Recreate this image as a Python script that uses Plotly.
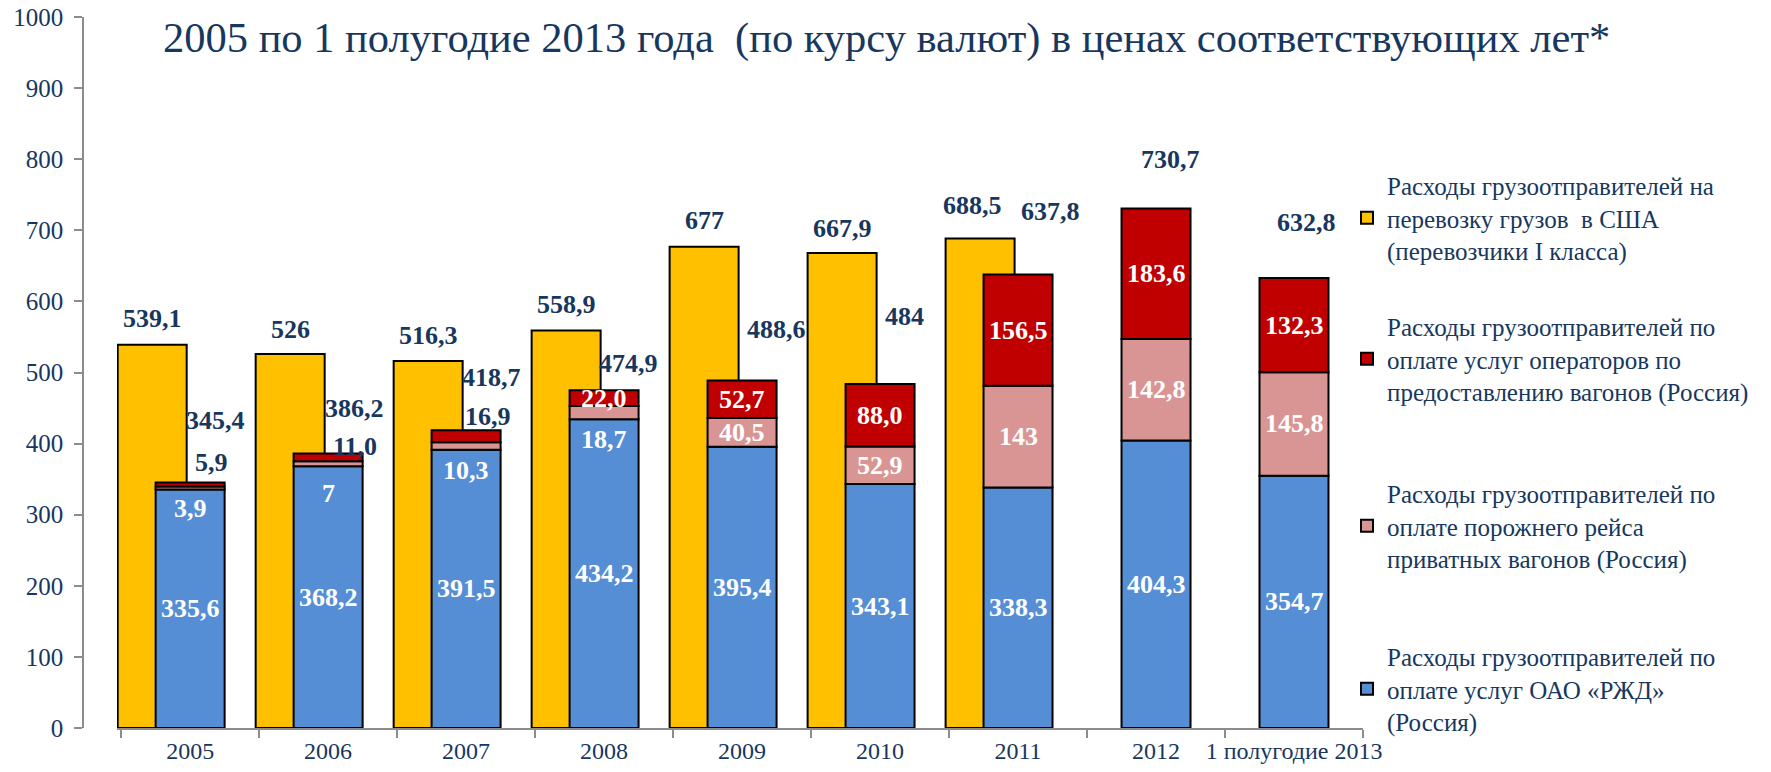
import plotly.graph_objects as go

# ---------------- data ----------------
categories = ["2005", "2006", "2007", "2008", "2009", "2010", "2011", "2012", "1 полугодие 2013"]
usa = ["539,1", "526", "516,3", "558,9", "677", "667,9", "688,5", None, None]
rzd = ["335,6", "368,2", "391,5", "434,2", "395,4", "343,1", "338,3", "404,3", "354,7"]
empty_run = ["3,9", "7", "10,3", "18,7", "40,5", "52,9", "143", "142,8", "145,8"]
operators = ["5,9", "11,0", "16,9", "22,0", "52,7", "88,0", "156,5", "183,6", "132,3"]
y_ticks = [0, 100, 200, 300, 400, 500, 600, 700, 800, 900, 1000]

names = [
    "Расходы грузоотправителей на<br>перевозку грузов  в США<br>(перевозчики I класса)",
    "Расходы грузоотправителей по<br>оплате услуг операторов по<br>предоставлению вагонов (Россия)",
    "Расходы грузоотправителей по<br>оплате порожнего рейса<br>приватных вагонов (Россия)",
    "Расходы грузоотправителей по<br>оплате услуг ОАО «РЖД»<br>(Россия)",
]
title_text = "2005 по 1 полугодие 2013 года  (по курсу валют) в ценах соответствующих лет*"

# ---------------- styling / layout config ----------------
W, H = 1771, 772
ML, MR, MT, MB = 83, 408, 17, 44
NAVY = "#17375E"
AXIS = "#8C8C8C"
FONT = "Liberation Serif"
C_USA, C_OPER, C_EMPTY, C_RZD = "#FFC000", "#C00000", "#D99594", "#558ED5"
BAR_W = 0.5
USA_OFF = -0.525
RUS_OFF = -0.25
LBL = 26

# manual label nudges (pixels)
usa_lbl_shift = [(0, 26), (0, 25), (0, 25), (0, 26), (0, 26), (0, 25), (-8, 33), (0, 0), (0, 0)]
tot_lbl_shift = [(25, 62), (26, 45), (25, 53), (24, 27), (34, 51), (24, 67), (32, 63), (14, 49), (12, 56)]
oper_out_shift = [(21, 20), (27, 7), (22, 14)]
empty_below_shift = [-19, -27, -21, -20]


def num(s):
    return None if s is None else float(s.replace(",", "."))


def fmt(v):
    v = round(v, 1)
    return str(int(v)) if v == int(v) else f"{v:.1f}".replace(".", ",")


us_v = [num(s) for s in usa]
rzd_v = [num(s) for s in rzd]
emp_v = [num(s) for s in empty_run]
op_v = [num(s) for s in operators]
base_emp = rzd_v
base_op = [a + b for a, b in zip(rzd_v, emp_v)]
totals = [a + b + c for a, b, c in zip(rzd_v, emp_v, op_v)]

line = dict(color="black", width=2)
fig = go.Figure()
fig.add_trace(go.Bar(x=categories, y=us_v, name=names[0], marker=dict(color=C_USA, line=line),
                     width=BAR_W, offset=USA_OFF, legend="legend", hoverinfo="y"))
fig.add_trace(go.Bar(x=categories, y=rzd_v, name=names[3], marker=dict(color=C_RZD, line=line),
                     width=BAR_W, offset=RUS_OFF, legend="legend4", hoverinfo="y"))
fig.add_trace(go.Bar(x=categories, y=emp_v, base=base_emp, name=names[2], marker=dict(color=C_EMPTY, line=line),
                     width=BAR_W, offset=RUS_OFF, legend="legend3", hoverinfo="y"))
fig.add_trace(go.Bar(x=categories, y=op_v, base=base_op, name=names[1], marker=dict(color=C_OPER, line=line),
                     width=BAR_W, offset=RUS_OFF, legend="legend2", hoverinfo="y"))

ann = []


def lab(x, y, text, color, xs=0, ys=0):
    ann.append(dict(x=x, y=y, xref="x", yref="y", text=f"<b>{text}</b>", showarrow=False,
                    xanchor="center", yanchor="middle", xshift=xs, yshift=ys,
                    font=dict(family=FONT, size=LBL, color=color)))


usa_center = USA_OFF + BAR_W / 2
for i in range(len(categories)):
    if us_v[i] is not None:
        xs, ys = usa_lbl_shift[i]
        lab(i + usa_center, us_v[i], usa[i], NAVY, xs, ys)
    # blue
    lab(i, rzd_v[i] / 2, rzd[i], "white")
    # pink
    if emp_v[i] < 25:
        lab(i, rzd_v[i], empty_run[i], "white", 0, empty_below_shift[i])
    else:
        lab(i, base_emp[i] + emp_v[i] / 2, empty_run[i], "white")
    # red
    if op_v[i] < 20:
        xs, ys = oper_out_shift[i]
        lab(i, totals[i], operators[i], NAVY, xs, ys)
    else:
        lab(i, base_op[i] + op_v[i] / 2, operators[i], "white")
    # totals
    xs, ys = tot_lbl_shift[i]
    lab(i, totals[i], fmt(totals[i]), NAVY, xs, ys)

plot_w = W - ML - MR
plot_h = H - MT - MB
x_left_px = 117
ann.append(dict(xref="paper", yref="paper", x=(161 - ML) / plot_w, y=(H - MB - 38) / plot_h,
                xanchor="left", yanchor="middle", showarrow=False, text=title_text,
                font=dict(family=FONT, size=42.5, color=NAVY)))

leg_font = dict(family=FONT, size=25, color=NAVY)
leg_x = (1347 - ML) / plot_w
leg_centers = [218, 359, 526, 689]
legends = {}
for k, cy in zip(["legend", "legend2", "legend3", "legend4"], leg_centers):
    legends[k] = dict(x=leg_x, y=(H - MB - cy) / plot_h, xanchor="left", yanchor="middle",
                      font=leg_font, bgcolor="rgba(0,0,0,0)", borderwidth=0)

fig.update_layout(
    width=W, height=H,
    margin=dict(l=ML, r=MR, t=MT, b=MB, pad=0, autoexpand=False),
    paper_bgcolor="white", plot_bgcolor="white",
    barmode="overlay",
    showlegend=True,
    annotations=ann,
    font=dict(family=FONT, color=NAVY),
    **legends,
)
fig.update_xaxes(
    type="category", domain=[(x_left_px - ML) / plot_w, 1], range=[-0.53, len(categories) - 0.5],
    tickson="boundaries", ticks="outside", ticklen=8, tickcolor=AXIS, tickwidth=1.5,
    showline=True, linecolor=AXIS, linewidth=1.5, showgrid=False, zeroline=False,
    tickangle=0, tickfont=dict(family=FONT, size=24, color=NAVY), automargin=False,
)
fig.update_yaxes(
    anchor="free", position=0, range=[0, 1000], tickvals=y_ticks,
    ticks="outside", ticklen=8, tickcolor=AXIS, tickwidth=1.5,
    showline=True, linecolor=AXIS, linewidth=1.5, showgrid=False, zeroline=False,
    tickfont=dict(family=FONT, size=25, color=NAVY), ticklabelstandoff=6, automargin=False,
)

fig.write_html("out.html", config={"displayModeBar": False},
               post_script="document.body.style.margin='0';")
